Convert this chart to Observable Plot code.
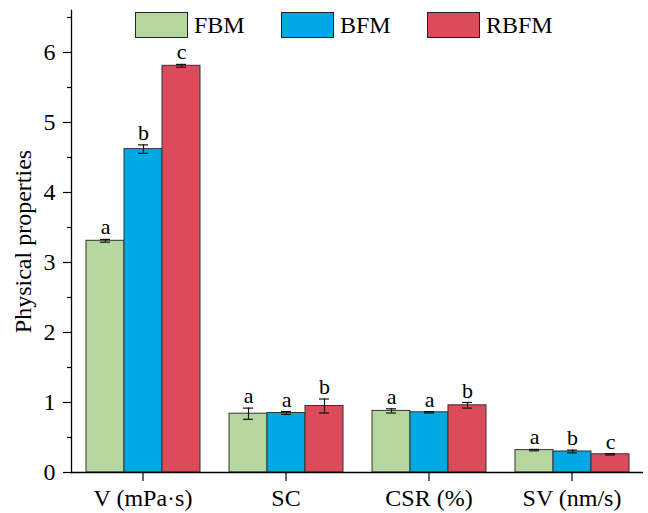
<!DOCTYPE html>
<html>
<head>
<meta charset="utf-8">
<script src="https://cdn.jsdelivr.net/npm/d3@7"></script>
<script src="https://cdn.jsdelivr.net/npm/@observablehq/plot@0.6"></script>
<style>
  body { margin: 0; background: #fff; font-family: "Liberation Serif", serif; }
  #wrap { position: relative; width: 648px; height: 513px; }
  #legend { position: absolute; left: 135px; top: 12px; display: flex; }
  .item { width: 146px; display: flex; align-items: center; font-size: 24px; color: #000; height: 26px; }
  .sw { width: 51px; height: 24px; border: 1px solid #222; margin-right: 6px; box-sizing: content-box; }
  svg text { font-family: "Liberation Serif", serif; }
</style>
</head>
<body>
<div id="wrap">
  <div id="chart"></div>
  <div id="legend"></div>
</div>
<script>
const categories = ["V (mPa·s)", "SC", "CSR (%)", "SV (nm/s)"];
const series = ["FBM", "BFM", "RBFM"];
const colors = ["#b5d69e", "#00a9e4", "#dd4a5a"];

const fbmValues = [3.31, 0.84, 0.88, 0.32];
const fbmErrors = [0.02, 0.08, 0.03, 0.01];
const fbmLetters = ["a", "a", "a", "a"];

const bfmValues = [4.62, 0.85, 0.86, 0.30];
const bfmErrors = [0.06, 0.02, 0.01, 0.02];
const bfmLetters = ["b", "a", "a", "b"];

const rbfmValues = [5.81, 0.95, 0.96, 0.26];
const rbfmErrors = [0.02, 0.10, 0.04, 0.01];
const rbfmLetters = ["c", "b", "b", "c"];

const yMajorTicks = [0, 1, 2, 3, 4, 5, 6];
const yMinorTicks = [0.5, 1.5, 2.5, 3.5, 4.5, 5.5, 6.5];

const seriesData = [
  [fbmValues, fbmErrors, fbmLetters],
  [bfmValues, bfmErrors, bfmLetters],
  [rbfmValues, rbfmErrors, rbfmLetters]
];
const data = [];
categories.forEach((cat, i) => {
  series.forEach((s, j) => {
    const [v, e, l] = seriesData[j];
    data.push({cat, series: s, value: v[i], lo: v[i] - e[i], hi: v[i] + e[i], letter: l[i]});
  });
});

const font = "'Liberation Serif', serif";

const chart = Plot.plot({
  width: 648,
  height: 513,
  marginLeft: 70,
  marginRight: 5,
  marginTop: 10,
  marginBottom: 41,
  style: {fontFamily: font, fontSize: "24px", color: "#000", background: "#fff"},
  fx: {domain: categories, padding: 0, label: null},
  x: {domain: series, paddingInner: 0, paddingOuter: 0.37, axis: null},
  y: {domain: [0, 6.6], axis: null},
  color: {domain: series, range: colors},
  marks: [
    Plot.barY(data, {fx: "cat", x: "series", y: "value", fill: "series", stroke: "#333", strokeWidth: 1}),
    Plot.ruleX(data, {fx: "cat", x: "series", y1: "lo", y2: "hi", stroke: "#111", strokeWidth: 1.2}),
    Plot.tickY(data, {fx: "cat", x: "series", y: "lo", stroke: "#111", strokeWidth: 1.2, inset: 14}),
    Plot.tickY(data, {fx: "cat", x: "series", y: "hi", stroke: "#111", strokeWidth: 1.2, inset: 14}),
    Plot.text(data, {fx: "cat", x: "series", y: "hi", text: "letter", dy: -5, lineAnchor: "bottom", fontSize: 22, fill: "#000"}),
    Plot.ruleY([0], {stroke: "#000", strokeWidth: 1.3}),
    Plot.frame({anchor: "left", facetAnchor: "left", stroke: "#000", strokeWidth: 1.3}),
    Plot.axisY({ticks: yMajorTicks, tickSize: 8, tickPadding: 8, tickFormat: d => d, label: "Physical properties", labelAnchor: "center", labelArrow: "none", labelOffset: 58, fontSize: 24, stroke: "#000", strokeWidth: 1.2}),
    Plot.axisY({ticks: yMinorTicks, tickSize: 4, tickFormat: () => "", label: null, stroke: "#000", strokeWidth: 1.2}),
    Plot.axisFx({anchor: "bottom", tickSize: 9, tickPadding: 7, fontSize: 24, label: null, stroke: "#000", strokeWidth: 1.2})
  ]
});
document.getElementById("chart").appendChild(chart);

const legend = document.getElementById("legend");
series.forEach((s, i) => {
  const item = document.createElement("div");
  item.className = "item";
  const sw = document.createElement("div");
  sw.className = "sw";
  sw.style.background = colors[i];
  const t = document.createElement("span");
  t.textContent = s;
  item.appendChild(sw);
  item.appendChild(t);
  legend.appendChild(item);
});
</script>
</body>
</html>
